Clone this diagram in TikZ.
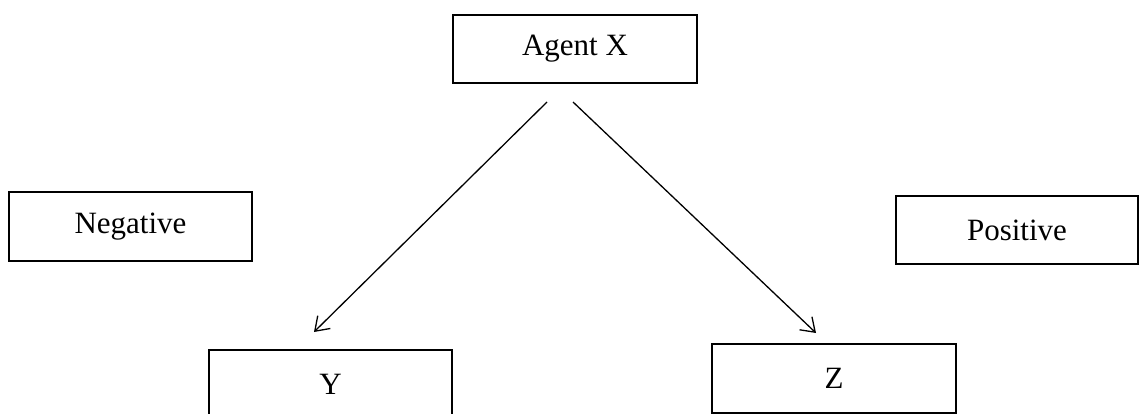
\documentclass[tikz,border=0pt]{standalone}
\usepackage{fontspec}
\setmainfont{Liberation Serif}
\usetikzlibrary{arrows.meta}
\begin{document}
\begin{tikzpicture}[x=1pt,y=-1pt,
  box/.style={draw=black,line width=1.6pt,minimum width=244pt,minimum height=68pt,inner sep=0pt,font=\fontsize{31}{31}\selectfont},
  conn/.style={line width=1.3pt,-{Straight Barb[length=13pt,width=18pt,line width=1.3pt]}}]
\useasboundingbox (0,0) rectangle (1139,414);
\begin{scope}
\clip (0,0) rectangle (1139,414);
\node[box] (ax) at (575,49) {Agent X};
\node[box,minimum width=243pt,minimum height=69pt] (neg) at (130.5,226.5) {Negative};
\node[box,minimum width=242pt] (pos) at (1017,230) {Positive};
\node[box,minimum width=243pt,minimum height=69pt] (y) at (330.5,384.5) {Y};
\node[box,minimum height=69pt] (z) at (834,378.5) {Z};
\coordinate (l1) at (547,102);
\coordinate (l2) at (314,332);
\coordinate (r1) at (573,102);
\coordinate (r2) at (816,333);
\draw[conn] (l1) -- (l2);
\draw[conn] (r1) -- (r2);
\end{scope}
\end{tikzpicture}
\end{document}
